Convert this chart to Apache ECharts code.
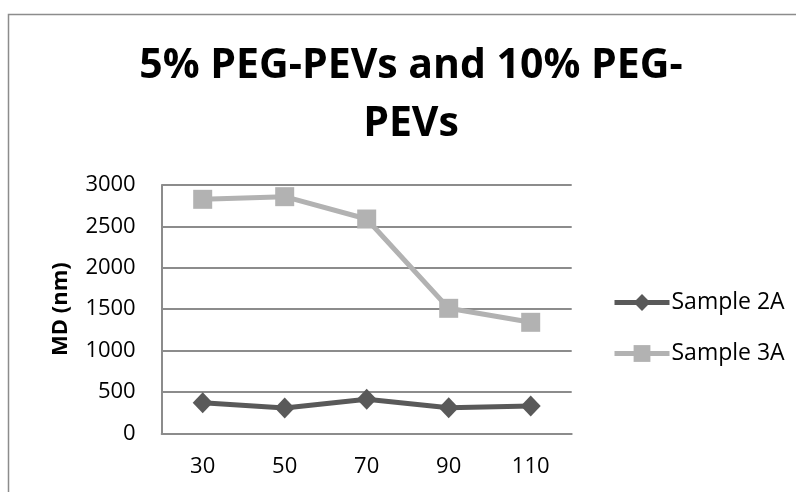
<!DOCTYPE html>
<html>
<head>
<meta charset="utf-8">
<script src="https://cdn.jsdelivr.net/npm/echarts@6/dist/echarts.min.js"></script>
<style>
html,body{margin:0;padding:0;background:#fff;}
#chart{width:796px;height:492px;}
</style>
</head>
<body>
<div id="chart"></div>
<script>
var categories = ['30', '50', '70', '90', '110'];
var sample2A = [370, 306, 411, 309, 330];
var sample3A = [2827, 2859, 2589, 1510, 1341];
var seriesNames = ['Sample 2A', 'Sample 3A'];
var titleText = '5% PEG-PEVs and 10% PEG-\nPEVs';
var yAxisTitle = 'MD (nm)';

var FONT = '"Open Sans", "Noto Sans", sans-serif';
var chart = echarts.init(document.getElementById('chart'), null, {renderer: 'canvas'});
chart.setOption({
  backgroundColor: '#ffffff',
  animation: false,
  title: {
    text: titleText,
    left: 411,
    top: 37,
    padding: 0,
    textAlign: 'center',
    textStyle: {
      fontFamily: FONT,
      fontWeight: 'bold',
      fontSize: 41,
      lineHeight: 58,
      color: '#000000'
    }
  },
  graphic: [{
    type: 'rect',
    shape: {x: 8.5, y: 14.5, width: 900, height: 700},
    style: {fill: 'none', stroke: '#8c8c8c', lineWidth: 1.5},
    silent: true,
    z: -1
  }],
  legend: {
    orient: 'vertical',
    left: 612,
    top: 291,
    itemWidth: 55,
    itemHeight: 21,
    itemGap: 28,
    padding: 0,
    lineStyle: {width: 5},
    textStyle: {
      fontFamily: FONT,
      fontSize: 23,
      lineHeight: 21,
      color: '#000000',
      padding: [0, 0, 0, -3]
    },
    data: seriesNames
  },
  grid: {
    left: 161.7,
    right: 224.3,
    top: 185,
    bottom: 58.7,
    containLabel: false
  },
  xAxis: {
    type: 'category',
    data: categories,
    boundaryGap: true,
    axisLine: {show: true, lineStyle: {color: '#8c8c8c', width: 2}},
    axisTick: {show: false},
    axisLabel: {
      fontFamily: FONT,
      fontSize: 22,
      color: '#000000',
      margin: 22
    },
    splitLine: {show: false}
  },
  yAxis: {
    type: 'value',
    min: 0,
    max: 3000,
    interval: 500,
    name: yAxisTitle,
    nameLocation: 'middle',
    nameGap: 90,
    nameRotate: 90,
    nameTextStyle: {
      fontFamily: FONT,
      fontWeight: 'bold',
      fontSize: 22,
      color: '#000000'
    },
    axisLine: {show: true, lineStyle: {color: '#8c8c8c', width: 2}},
    axisTick: {show: false},
    axisLabel: {
      fontFamily: FONT,
      fontSize: 22,
      color: '#000000',
      margin: 26,
      formatter: function (v) { return String(v); }
    },
    splitLine: {show: true, lineStyle: {color: '#8c8c8c', width: 2}}
  },
  series: [
    {
      name: seriesNames[0],
      type: 'line',
      data: sample2A,
      symbol: 'diamond',
      symbolSize: [20, 21],
      lineStyle: {color: '#595959', width: 5},
      itemStyle: {color: '#595959'},
      z: 3
    },
    {
      name: seriesNames[1],
      type: 'line',
      data: sample3A,
      symbol: 'rect',
      symbolSize: 19,
      lineStyle: {color: '#b2b2b2', width: 5},
      itemStyle: {color: '#b2b2b2'},
      z: 2
    }
  ]
});
</script>
</body>
</html>
